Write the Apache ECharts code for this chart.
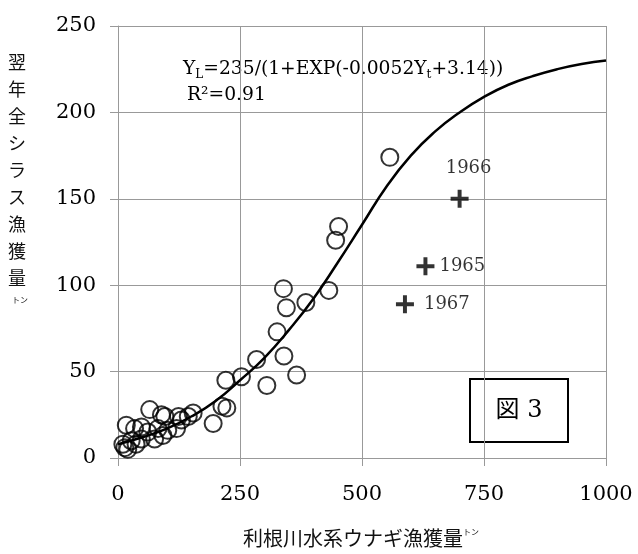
<!DOCTYPE html>
<html>
<head>
<meta charset="utf-8">
<script src="https://cdn.jsdelivr.net/npm/echarts@6/dist/echarts.min.js"></script>
<style>
  html, body { margin: 0; padding: 0; background: #fff; }
  #chart { width: 638px; height: 554px; }
</style>
</head>
<body>
<div id="chart"></div>
<script>
// 観測値（利根川水系ウナギ漁獲量 vs 翌年全シラス漁獲量）
var circX = [557, 452, 446, 432, 339, 345, 385, 326, 340, 284, 366, 253, 221, 305, 213, 223, 195, 154, 144, 124, 120, 96, 65, 89, 34, 17, 48, 82, 75, 92, 48, 27, 10, 20, 14, 37, 61, 102, 130];
var circY = [174, 134, 126, 97, 98, 87, 90, 73, 59, 57, 48, 47, 45, 42, 30, 29, 20, 26, 24, 24, 17, 24, 28, 25, 17, 19, 18, 17, 11, 13, 11, 10, 8, 5, 6, 8, 15, 16, 22];

// 外れ年
var plusX = [630, 700, 588];
var plusY = [111, 150, 89];
var plusYear = ["1965", "1966", "1967"];

// 回帰曲線
var curveX = [0, 50, 100, 150, 200, 250, 300, 350, 400, 450, 500, 550, 600, 650, 700, 750, 800, 850, 900, 950, 1000];
var curveY = [8, 12, 17, 24, 33, 45, 58, 74, 92, 113, 135, 157, 175, 189, 200, 209, 216, 221, 225, 228, 230];

var xTicks = [0, 250, 500, 750, 1000];
var yTicks = [0, 50, 100, 150, 200, 250];

var myChart = echarts.init(document.getElementById("chart"));

var serif = "DejaVu Serif";
var grey = "#999";

var plusPath = "path://M0,39 L100,39 L100,61 L0,61 Z M39,0 L61,0 L61,100 L39,100 Z";

var labelSet = {
  "1965": { position: "right", distance: 5, offset: [0, 0] },
  "1966": { position: "top", distance: 12, offset: [9, 0] },
  "1967": { position: "right", distance: 10, offset: [0, 0] }
};

var option = {
  animation: false,
  backgroundColor: "#fff",
  grid: { left: 118, right: 32, top: 26, bottom: 96 },
  xAxis: {
    type: "value",
    min: xTicks[0],
    max: xTicks[xTicks.length - 1],
    interval: 250,
    axisLine: { lineStyle: { color: grey, width: 1 } },
    axisTick: { show: true, inside: false, length: 8, lineStyle: { color: grey } },
    splitLine: { show: true, lineStyle: { color: grey, width: 1 } },
    axisLabel: {
      color: "#000", fontFamily: serif, fontSize: 21, margin: 26,
      formatter: function (v) { return String(v); }
    }
  },
  yAxis: {
    type: "value",
    min: yTicks[0],
    max: yTicks[yTicks.length - 1],
    interval: 50,
    axisLine: { show: true, lineStyle: { color: grey, width: 1 } },
    axisTick: { show: true, inside: false, length: 8, lineStyle: { color: grey } },
    splitLine: { show: true, lineStyle: { color: grey, width: 1 } },
    axisLabel: { color: "#000", fontFamily: serif, fontSize: 21, margin: 22 }
  },
  series: [
    {
      type: "line",
      smooth: 0.5,
      symbol: "none",
      lineStyle: { color: "#000", width: 2.5 },
      data: curveX.map(function (x, i) { return [x, curveY[i]]; }),
      z: 2
    },
    {
      type: "scatter",
      symbol: "circle",
      symbolSize: 17,
      itemStyle: { color: "rgba(0,0,0,0)", borderColor: "#000", borderWidth: 2 },
      data: circX.map(function (x, i) { return [x, circY[i]]; }),
      z: 3
    },
    {
      type: "scatter",
      symbol: plusPath,
      symbolSize: 18,
      itemStyle: { color: "#000" },
      data: plusX.map(function (x, i) {
        var s = labelSet[plusYear[i]];
        return {
          name: plusYear[i],
          value: [x, plusY[i]],
          label: {
            show: true,
            formatter: "{b}",
            position: s.position,
            distance: s.distance,
            offset: s.offset,
            color: "#000",
            fontFamily: serif,
            fontSize: 18
          }
        };
      }),
      z: 4
    }
  ],
  graphic: [
    {
      type: "text",
      left: 8,
      top: 49,
      style: {
        text: "翌\n年\n全\nシ\nラ\nス\n漁\n獲\n量",
        font: '18px "Noto Sans CJK JP"',
        lineHeight: 27,
        fill: "#111"
      }
    },
    {
      type: "text",
      left: 12,
      top: 296,
      style: { text: "トン", font: '8px "Noto Sans CJK JP"', fill: "#111" }
    },
    {
      type: "text",
      left: 243,
      top: 528,
      style: {
        text: "利根川水系ウナギ漁獲量{s|トン}",
        font: '20px "Noto Sans CJK JP"',
        fill: "#111",
        rich: { s: { fontSize: 8, fontFamily: "Noto Sans CJK JP", fill: "#111", verticalAlign: "top" } }
      }
    },
    {
      type: "text",
      left: 183,
      top: 60,
      style: {
        text: "{a|Y}{s|L}{a|=235/(1+EXP(-0.0052Y}{s|t}{a|+3.14))}",
        rich: {
          a: { fontFamily: serif, fontSize: 18.7, fill: "#000", lineHeight: 23 },
          s: { fontFamily: serif, fontSize: 12, fill: "#000", lineHeight: 13, verticalAlign: "bottom" }
        }
      }
    },
    {
      type: "text",
      left: 187,
      top: 86,
      style: { text: "R²=0.91", font: "18.7px " + serif, fill: "#000" }
    },
    {
      type: "rect",
      shape: { x: 470, y: 379, width: 98, height: 63 },
      style: { fill: "#fff", stroke: "#000", lineWidth: 2 }
    },
    {
      type: "text",
      x: 519,
      y: 411,
      style: {
        text: "図 3",
        font: '24px "DejaVu Serif", "Noto Sans CJK JP"',
        fill: "#000",
        align: "center",
        verticalAlign: "middle"
      }
    }
  ]
};

myChart.setOption(option);
</script>
</body>
</html>
